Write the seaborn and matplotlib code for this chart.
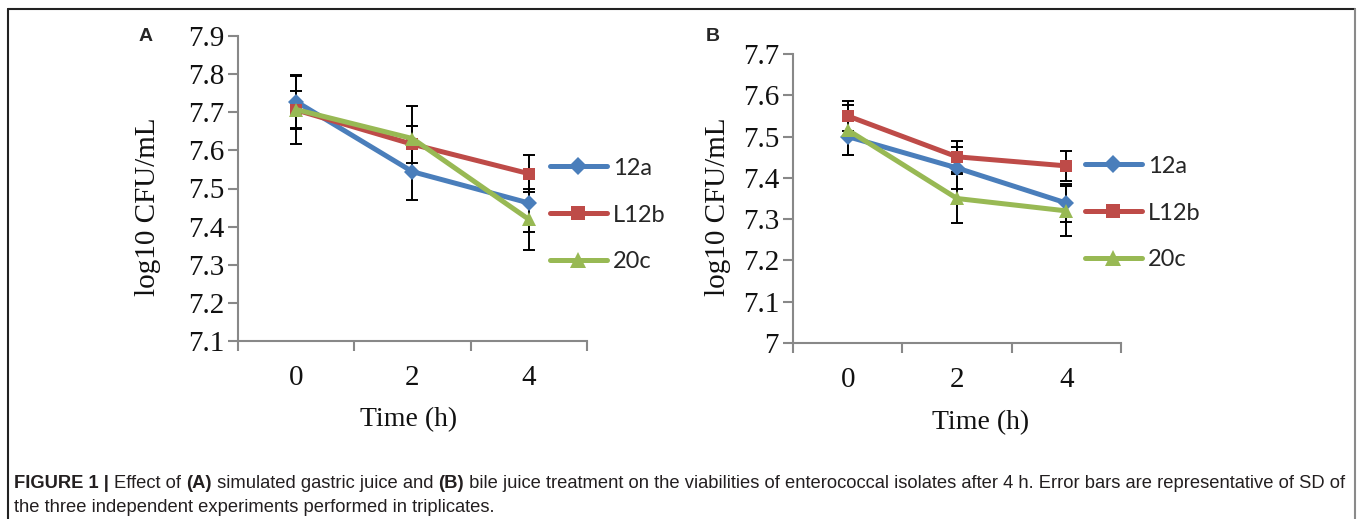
import numpy as np
import pandas as pd
import seaborn as sns
import matplotlib.pyplot as plt
from matplotlib.lines import Line2D

# data
times = [0, 2, 4]
strains = ['12a', 'L12b', '20c']

# panel A: simulated gastric juice
gastric_12a = [7.728, 7.544, 7.462]
gastric_L12b = [7.706, 7.616, 7.539]
gastric_20c = [7.707, 7.631, 7.419]
gastric_sd_12a = [0.07, 0.075, 0.075]
gastric_sd_L12b = [0.09, 0.048, 0.048]
gastric_sd_20c = [0.05, 0.085, 0.08]

# panel B: bile juice
bile_12a = [7.500, 7.424, 7.339]
bile_L12b = [7.550, 7.451, 7.429]
bile_20c = [7.516, 7.350, 7.320]
bile_sd_12a = [0.045, 0.05, 0.045]
bile_sd_L12b = [0.037, 0.038, 0.037]
bile_sd_20c = [0.06, 0.06, 0.06]

yticks_a = [7.1, 7.2, 7.3, 7.4, 7.5, 7.6, 7.7, 7.8, 7.9]
yticklabels_a = ['7.1', '7.2', '7.3', '7.4', '7.5', '7.6', '7.7', '7.8', '7.9']
yticks_b = [7.0, 7.1, 7.2, 7.3, 7.4, 7.5, 7.6, 7.7]
yticklabels_b = ['7', '7.1', '7.2', '7.3', '7.4', '7.5', '7.6', '7.7']

caption_1 = [('FIGURE 1 | ', 'bold'), ('Effect of ', 'normal'), ('(A)', 'bold'),
             (' simulated gastric juice and ', 'normal'), ('(B)', 'bold'),
             (' bile juice treatment on the viabilities of enterococcal isolates after 4 h. '
              'Error bars are representative of SD of', 'normal')]
caption_2 = 'the three independent experiments performed in triplicates.'

colors = ['#4a7ebb', '#be4b48', '#98b954']
markers = ['D', 's', '^']
msizes = [8, 9, 10]

sns.set_theme(style='white')
plt.rcParams['font.family'] = ['Liberation Serif', 'DejaVu Serif']

W, H = 1358, 519
fig = plt.figure(figsize=(W / 100, H / 100), dpi=100)


def make_df(v1, v2, v3):
    rows = []
    for s, vals in zip(strains, [v1, v2, v3]):
        for t, v in zip(times, vals):
            rows.append({'time': t, 'strain': s, 'value': v})
    return pd.DataFrame(rows)


def panel(rect, df, sds, yticks, yticklabels, ylab_xy, xlab_xy, legend_xy, letter, letter_xy):
    ax = fig.add_axes(rect)
    # error bars behind the lines
    pos = np.arange(len(times))
    for s, sd in zip(strains, sds):
        vals = df[df.strain == s].sort_values('time')['value'].values
        ax.errorbar(pos, vals, yerr=sd, fmt='none', ecolor='black',
                    elinewidth=1.4, capsize=4, capthick=1.4, zorder=1)
    sns.pointplot(data=df, x='time', y='value', hue='strain', order=times,
                  hue_order=strains, palette=colors, markers=markers,
                  linestyles='-', errorbar=None, linewidth=3.6, markersize=8,
                  markeredgewidth=0, legend=False, ax=ax)
    for ln, ms in zip(ax.lines[-3:], msizes):
        ln.set_markersize(ms)
        ln.set_zorder(3)
    ax.set_xlim(-0.5, len(times) - 0.5)
    ax.set_ylim(yticks[0], yticks[-1])
    ax.set_yticks(yticks)
    ax.set_yticklabels(yticklabels)
    ax.set_xticks(pos)
    ax.set_xticklabels([str(t) for t in times])
    ax.set_xticks(np.arange(len(times) + 1) - 0.5, minor=True)
    for side in ['top', 'right']:
        ax.spines[side].set_visible(False)
    for side in ['left', 'bottom']:
        ax.spines[side].set_color('#888888')
        ax.spines[side].set_linewidth(1.5)
    ax.tick_params(axis='y', which='major', direction='out', length=7, width=1.5,
                   color='#888888', labelsize=21, pad=3, left=True, labelcolor='#111111')
    ax.tick_params(axis='x', which='major', length=0, labelsize=21, pad=17,
                   labelcolor='#111111')
    ax.tick_params(axis='x', which='minor', direction='out', length=7, width=1.5,
                   color='#888888', bottom=True)
    ax.set_xlabel('Time (h)', fontsize=20, color='#111111')
    ax.set_ylabel('log10 CFU/mL', fontsize=21, color='#111111')
    ax.xaxis.set_label_coords(*xlab_xy)
    ax.yaxis.set_label_coords(*ylab_xy)
    ax.grid(False)

    handles = [Line2D([], [], color=c, marker=m, markersize=ms + 1, markeredgewidth=0, lw=3.6)
               for c, m, ms in zip(colors, markers, msizes)]
    fig.legend(handles, strains, loc='center left', bbox_to_anchor=legend_xy,
               bbox_transform=fig.transFigure, frameon=False, numpoints=1,
               handlelength=2.4, handletextpad=0.25, labelspacing=1.1,
               borderpad=0, borderaxespad=0,
               prop={'family': ['Lato', 'DejaVu Sans'], 'size': 17})
    fig.text(letter_xy[0], letter_xy[1], letter, fontsize=14, fontweight='bold',
             family=['Liberation Sans', 'DejaVu Sans'], ha='left', va='top')
    return ax


df_a = make_df(gastric_12a, gastric_L12b, gastric_20c)
df_b = make_df(bile_12a, bile_L12b, bile_20c)

panel([238 / W, 1 - 341 / H, (587 - 238) / W, (341 - 36) / H], df_a,
      [gastric_sd_12a, gastric_sd_L12b, gastric_sd_20c], yticks_a, yticklabels_a,
      (-0.22, 0.44), (0.49, -0.216), (550 / W, 1 - 215 / H), 'A', (139 / W, 1 - 28 / H))
panel([793 / W, 1 - 343 / H, (1121 - 793) / W, (343 - 54) / H], df_b,
      [bile_sd_12a, bile_sd_L12b, bile_sd_20c], yticks_b, yticklabels_b,
      (-0.19, 0.47), (0.573, -0.232), (1085 / W, 1 - 213 / H), 'B', (706 / W, 1 - 28 / H))

# frame and caption
ov = fig.add_axes([0, 0, 1, 1])
ov.axis('off')
ov.set_xlim(0, 1)
ov.set_ylim(0, 1)
ov.plot([8 / W, 1355 / W], [1 - 9 / H, 1 - 9 / H], color='#222222', lw=1.5)
ov.plot([8 / W, 8 / W], [1 - 9 / H, 0], color='#222222', lw=1.5)
ov.plot([1355 / W, 1355 / W], [1 - 9 / H, 0], color='#8a8a8a', lw=1.5)

cap_font = ['Liberation Sans', 'DejaVu Sans']
cap_size = 13.2
base1 = 1 - 488 / H
prev = None
for txt, wt in caption_1:
    if prev is None:
        prev = ov.annotate(txt, xy=(14 / W, base1), xycoords='figure fraction',
                           fontsize=cap_size, fontweight=wt, family=cap_font,
                           color='#231f20', va='baseline', ha='left')
    else:
        prev = ov.annotate(txt, xy=(1, base1), xycoords=(prev, 'figure fraction'),
                           fontsize=cap_size, fontweight=wt, family=cap_font,
                           color='#231f20', va='baseline', ha='left')
ov.annotate(caption_2, xy=(14 / W, 1 - 512 / H), xycoords='figure fraction',
            fontsize=cap_size, family=cap_font, color='#231f20', va='baseline', ha='left')

fig.savefig('out.png', dpi=100)
